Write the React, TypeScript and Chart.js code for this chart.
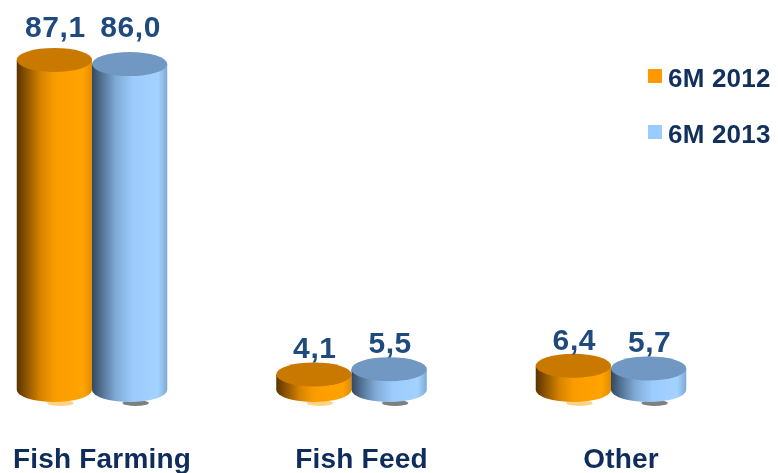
import React, { useEffect, useRef } from 'react';
import { Chart, registerables } from 'chart.js';

Chart.register(...registerables);

const categories = ['Fish Farming', 'Fish Feed', 'Other'];
const seriesLabels = ['6M 2012', '6M 2013'];
const values2012 = [87.1, 4.1, 6.4];
const values2013 = [86.0, 5.5, 5.7];
const yMin = 0;
const yMax = 100;

const FONT = '"Liberation Sans", Arial, Helvetica, sans-serif';
const VALUE_COLOR = '#1F4A7E';
const CAT_COLOR = '#0E2D5C';
const LEGEND_COLOR = '#12305E';

type Palette = { legend: string; top: string; stops: [number, string][]; shadow: string };

const palettes: Palette[] = [
  {
    legend: '#FF9900',
    top: '#C97800',
    stops: [
      [0, '#5A3300'],
      [0.12, '#8A5200'],
      [0.32, '#D88400'],
      [0.5, '#FA9C00'],
      [0.88, '#FFA300'],
      [1, '#E38B00'],
    ],
    shadow: 'rgba(255,205,120,0.9)',
  },
  {
    legend: '#99CCFF',
    top: '#7198C2',
    stops: [
      [0, '#33485E'],
      [0.12, '#516F90'],
      [0.32, '#80AAD6'],
      [0.55, '#9CCCFC'],
      [0.88, '#A3D2FF'],
      [1, '#7FA8D4'],
    ],
    shadow: '#7F7F7F',
  },
];

const fmt = (v: number) => v.toFixed(1).replace('.', ',');

const setSpacing = (ctx: any, px: number) => {
  if ('letterSpacing' in ctx) ctx.letterSpacing = `${px}px`;
};

const cylinderPlugin = {
  id: 'cylinders',
  afterDatasetsDraw(chart: any) {
    const ctx: CanvasRenderingContext2D = chart.ctx;
    const ry = 12;
    const area = chart.chartArea;
    chart.data.datasets.forEach((ds: any, di: number) => {
      const meta = chart.getDatasetMeta(di);
      const pal = palettes[di];
      meta.data.forEach((el: any, i: number) => {
        const { x, y, base, width } = el.getProps(['x', 'y', 'base', 'width'], true);
        const rx = width / 2;
        const l = x - rx;
        const r = x + rx;
        ctx.save();
        // shadow under bar
        ctx.fillStyle = pal.shadow;
        ctx.beginPath();
        ctx.ellipse(x + 6, base + ry + 1, rx * 0.35, 3, 0, 0, Math.PI * 2);
        ctx.fill();
        // body
        const g = ctx.createLinearGradient(l, 0, r, 0);
        pal.stops.forEach(([o, c]) => g.addColorStop(o, c));
        ctx.fillStyle = g;
        ctx.beginPath();
        ctx.moveTo(l, y);
        ctx.lineTo(l, base);
        ctx.ellipse(x, base, rx, ry, 0, Math.PI, 0, true);
        ctx.lineTo(r, y);
        ctx.closePath();
        ctx.fill();
        // top
        ctx.fillStyle = pal.top;
        ctx.beginPath();
        ctx.ellipse(x, y, rx, ry, 0, 0, Math.PI * 2);
        ctx.fill();
        // value label
        const v = ds.data[i];
        ctx.fillStyle = VALUE_COLOR;
        ctx.font = `bold 30px ${FONT}`;
        setSpacing(ctx, 0.6);
        ctx.textAlign = 'center';
        ctx.textBaseline = 'alphabetic';
        const by = y < 120 ? area.top + 26 : y - 16;
        ctx.fillText(fmt(v), x + 1, by);
        ctx.restore();
      });
    });
  },
  afterDraw(chart: any) {
    const ctx: CanvasRenderingContext2D = chart.ctx;
    const xs = chart.scales.x;
    ctx.save();
    // category labels
    ctx.fillStyle = CAT_COLOR;
    ctx.font = `bold 28px ${FONT}`;
    setSpacing(ctx, 0.2);
    ctx.textAlign = 'center';
    ctx.textBaseline = 'alphabetic';
    chart.data.labels.forEach((lab: string, i: number) => {
      ctx.fillText(lab, xs.getPixelForTick(i) + 10, 468);
    });
    // legend
    ctx.font = `bold 26px ${FONT}`;
    setSpacing(ctx, 0.2);
    ctx.textAlign = 'left';
    chart.data.datasets.forEach((ds: any, di: number) => {
      const top = 69 + di * 56;
      ctx.fillStyle = palettes[di].legend;
      ctx.fillRect(648, top, 14, 14);
      ctx.fillStyle = LEGEND_COLOR;
      ctx.fillText(ds.label, 668, top + 18);
    });
    ctx.restore();
  },
};

export default function App() {
  const ref = useRef<HTMLCanvasElement | null>(null);
  useEffect(() => {
    if (!ref.current) return;
    const chart = new Chart(ref.current, {
      type: 'bar',
      data: {
        labels: categories,
        datasets: [
          {
            label: seriesLabels[0],
            data: values2012,
            backgroundColor: 'rgba(0,0,0,0)',
            borderWidth: 0,
            categoryPercentage: 0.58,
            barPercentage: 1,
          },
          {
            label: seriesLabels[1],
            data: values2013,
            backgroundColor: 'rgba(0,0,0,0)',
            borderWidth: 0,
            categoryPercentage: 0.58,
            barPercentage: 1,
          },
        ],
      },
      options: {
        responsive: false,
        animation: false,
        layout: { padding: { left: 92, right: 167, top: 11, bottom: 83 } },
        scales: {
          x: { display: false, offset: false },
          y: { display: false, min: yMin, max: yMax },
        },
        plugins: {
          legend: { display: false },
          tooltip: { enabled: false },
        },
      },
      plugins: [cylinderPlugin],
    } as any);
    return () => chart.destroy();
  }, []);
  return (
    <div style={{ position: 'absolute', left: 0, top: 0, width: 778, height: 473, background: '#fff' }}>
      <canvas ref={ref} width={778} height={473} style={{ display: 'block' }} />
    </div>
  );
}
